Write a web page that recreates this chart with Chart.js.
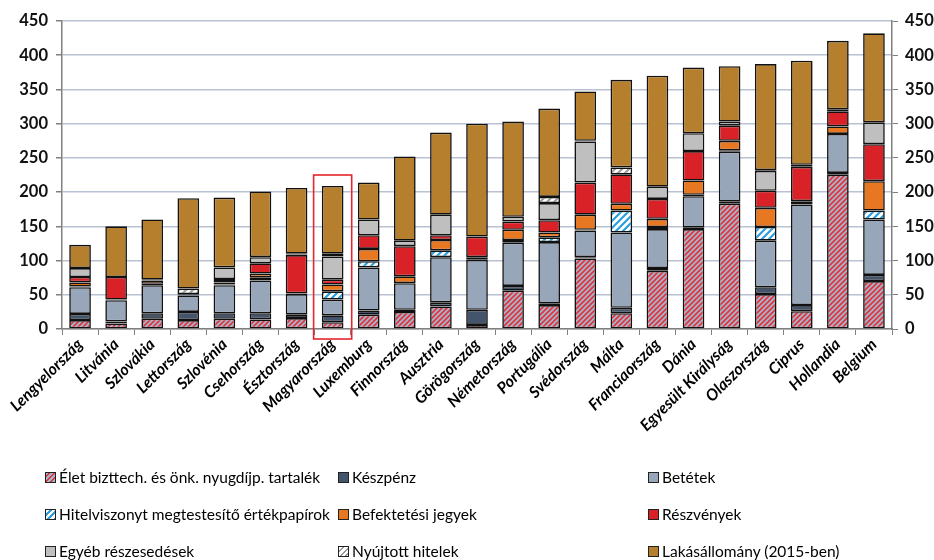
<!DOCTYPE html>
<html>
<head>
<meta charset="utf-8">
<script src="https://cdn.jsdelivr.net/npm/chart.js@4/dist/chart.umd.min.js"></script>
<style>
  html, body { margin: 0; padding: 0; background: #ffffff; }
  #wrap { position: relative; width: 934px; height: 560px; overflow: hidden; }
  canvas { position: absolute; left: 0; top: 0; }
  .lg { position: absolute; font-family: Lato, "Liberation Sans", sans-serif; font-size: 15.5px; color: #000; white-space: nowrap; line-height: 18px; }
  .lg i { display: inline-block; width: 9px; height: 9px; border: 1px solid #222; vertical-align: 0px; margin-right: 3px; }
</style>
</head>
<body>
<div id="wrap">
  <canvas id="c" width="934" height="560"></canvas>
</div>
<script>
const categories = ["Lengyelország","Litvánia","Szlovákia","Lettország","Szlovénia","Csehország","Észtország","Magyarország","Luxemburg","Finnország","Ausztria","Görögország","Németország","Portugália","Svédország","Málta","Franciaország","Dánia","Egyesült Királyság","Olaszország","Ciprus","Hollandia","Belgium"];

const seriesNames = ["Élet bizttech. és önk. nyugdíjp. tartalék","Készpénz","Betétek","Hitelviszonyt megtestesítő értékpapírok","Befektetési jegyek","Részvények","Egyéb részesedések","Nyújtott hitelek","Lakásállomány (2015-ben)"];

const elet      = [13, 8,15, 13, 15,14,16,10,21, 25, 33,  6, 56, 35,103, 23, 85,146,183, 51, 26,226, 70];
const keszpenz  = [ 9, 3, 8, 12,  8, 9, 5,10, 6,  3,  6, 22,  7,  2,  2,  8,  4,  2,  3, 10,  9,  2,  9];
const betetek   = [39,31,41, 24, 41,48,30,23,63, 39, 66, 73, 63, 90, 39,110, 57, 46, 73, 68,147, 57, 81];
const hitelpap  = [ 1, 0, 2,  0,  1, 4, 0,12, 9,  0, 10,  0,  4,  7,  1, 32,  3,  2,  2, 20,  4,  0, 13];
const befjegy   = [ 6, 1, 5,  1,  3, 6, 1,10,18, 10, 15,  4, 15,  7, 22, 10, 12, 21, 14, 28,  1, 11, 43];
const reszveny  = [ 8,33, 1,  1,  5,15,56, 7,20, 44,  7, 30, 12, 18, 47, 43, 29, 43, 22, 25, 50, 22, 54];
const egyeb     = [13, 0, 0,  0, 17, 9, 1,34,23,  8, 30,  0,  7, 25, 60,  0, 18, 26,  6, 29,  1,  2, 32];
const nyujtott  = [ 0, 0, 0,  8,  0, 0, 1, 4, 0,  0,  0,  0,  0,  9,  1, 10,  0,  0,  0,  1,  2,  1,  0];
const lakas     = [34,74,88,132,102,96,96,99,54,123,120,165,139,129, 72,128,162, 96, 81,155,152,100,130];

const yTicks = [0,50,100,150,200,250,300,350,400,450];
const highlighted = "Magyarország";
const highlightTop = 225;

const ctx = document.getElementById('c').getContext('2d');

function stripes(bg, fg, size, lw) {
  const c = document.createElement('canvas');
  c.width = size; c.height = size;
  const x = c.getContext('2d');
  x.fillStyle = bg; x.fillRect(0, 0, size, size);
  x.strokeStyle = fg; x.lineWidth = lw;
  x.beginPath();
  x.moveTo(-1, size + 1); x.lineTo(size + 1, -1);
  x.moveTo(-size / 2 - 1, size / 2 + 1); x.lineTo(size / 2 + 1, -size / 2 - 1);
  x.moveTo(size / 2 - 1, size * 1.5 + 1); x.lineTo(size * 1.5 + 1, size / 2 - 1);
  x.stroke();
  return ctx.createPattern(c, 'repeat');
}

const fills = [
  stripes('#a6b4ca', '#e2323c', 5, 1.6),
  '#44546a',
  '#98a6ba',
  stripes('#ffffff', '#2a9fdc', 7, 2.2),
  '#e87722',
  '#d92128',
  '#bfbfbf',
  stripes('#ffffff', '#9a9a9a', 7, 2),
  '#b57f2d'
];
const legendCss = [
  'repeating-linear-gradient(135deg,#a6b4ca 0 2px,#e2323c 2px 3.5px)',
  '#44546a', '#98a6ba',
  'repeating-linear-gradient(135deg,#ffffff 0 2.5px,#2a9fdc 2.5px 4.5px)',
  '#e87722', '#d92128', '#bfbfbf',
  'repeating-linear-gradient(135deg,#ffffff 0 2.5px,#9a9a9a 2.5px 4px)',
  '#b57f2d'
];
const seriesData = [elet, keszpenz, betetek, hitelpap, befjegy, reszveny, egyeb, nyujtott, lakas];

const datasets = seriesData.map((d, i) => ({
  label: seriesNames[i],
  data: d,
  backgroundColor: fills[i],
  borderColor: '#111111',
  borderWidth: 1.6,
  borderSkipped: false,
  barPercentage: 0.6,
  categoryPercentage: 1.0,
  stack: 's'
}));

const highlightPlugin = {
  id: 'highlight',
  afterDatasetsDraw(chart) {
    const xs = chart.scales.x, ys = chart.scales.y;
    const idx = categories.indexOf(highlighted);
    const cx = xs.getPixelForValue(idx);
    const half = (xs.width / categories.length) / 2 + 1;
    const top = ys.getPixelForValue(highlightTop);
    const bot = ys.getPixelForValue(0) + 10;
    const c = chart.ctx;
    c.save();
    c.strokeStyle = '#e3262b';
    c.lineWidth = 1.6;
    c.strokeRect(cx - half, top, half * 2, bot - top);
    c.restore();
  }
};

const tickFont = { family: 'Lato, "Liberation Sans", sans-serif', size: 16.5, weight: 'bold' };

new Chart(ctx, {
  type: 'bar',
  data: { labels: categories, datasets },
  options: {
    responsive: false,
    animation: false,
    layout: { padding: { top: 21, bottom: 116, left: 0, right: 0 } },
    plugins: { legend: { display: false }, tooltip: { enabled: false } },
    scales: {
      x: {
        stacked: true,
        grid: { display: true, drawOnChartArea: false, drawTicks: true, tickLength: 6, color: '#808080', offset: true },
        border: { display: true, color: '#808080', width: 1.5 },
        ticks: {
          font: { family: 'Lato, "Liberation Sans", sans-serif', size: 16, weight: 'bold', style: 'italic' },
          color: '#000', maxRotation: 45, minRotation: 45, autoSkip: false, padding: 0
        },
        afterFit(s) { s.height = 115; }
      },
      y: {
        stacked: true, min: 0, max: 450, position: 'left',
        afterBuildTicks(s) { s.ticks = yTicks.map(v => ({ value: v })); },
        grid: { color: '#b9c2d2', lineWidth: 1.5, tickLength: 6, tickColor: '#808080' },
        border: { display: true, color: '#808080', width: 1.5 },
        ticks: { font: tickFont, color: '#111', padding: 8 },
        afterFit(s) { s.width = 62; }
      },
      y2: {
        min: 0, max: 450, position: 'right',
        afterBuildTicks(s) { s.ticks = yTicks.map(v => ({ value: v })); },
        grid: { drawOnChartArea: false, tickLength: 6, color: '#808080' },
        border: { display: true, color: '#808080', width: 1.5 },
        ticks: { font: tickFont, color: '#111', padding: 7 },
        afterFit(s) { s.width = 42; }
      }
    }
  },
  plugins: [highlightPlugin]
});

// Legend (3 columns x 3 rows)
const legendCols = [45, 338, 648];
const legendRows = [468, 505, 542];
const wrap = document.getElementById('wrap');
seriesNames.forEach((name, i) => {
  const el = document.createElement('div');
  el.className = 'lg';
  el.style.left = legendCols[i % 3] + 'px';
  el.style.top = legendRows[Math.floor(i / 3)] + 'px';
  const box = document.createElement('i');
  box.style.background = legendCss[i];
  el.appendChild(box);
  el.appendChild(document.createTextNode(name));
  wrap.appendChild(el);
});
</script>
</body>
</html>
